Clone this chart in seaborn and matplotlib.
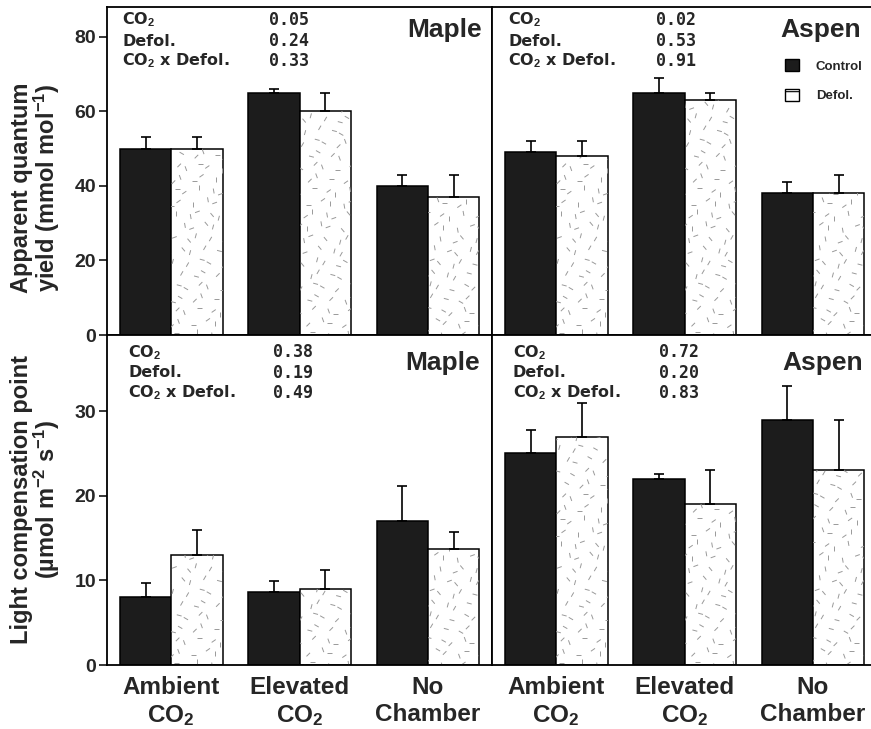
import numpy as np
import pandas as pd
import matplotlib
matplotlib.use("Agg")
import matplotlib.pyplot as plt
import seaborn as sns
from matplotlib.collections import LineCollection
from matplotlib.patches import Patch

# data (means and upper SE)
treatments = ["Ambient\nCO$_2$", "Elevated\nCO$_2$", "No\nChamber"]
groups = ["Control", "Defol."]

maple_qy_ctrl = [50, 65, 40]
maple_qy_ctrl_se = [3, 1, 3]
maple_qy_defol = [50, 60, 37]
maple_qy_defol_se = [3, 5, 6]

aspen_qy_ctrl = [49, 65, 38]
aspen_qy_ctrl_se = [3, 4, 3]
aspen_qy_defol = [48, 63, 38]
aspen_qy_defol_se = [4, 2, 5]

maple_lcp_ctrl = [8, 8.6, 17]
maple_lcp_ctrl_se = [1.7, 1.3, 4.1]
maple_lcp_defol = [13, 9, 13.7]
maple_lcp_defol_se = [2.9, 2.2, 2.0]

aspen_lcp_ctrl = [25, 22, 29]
aspen_lcp_ctrl_se = [2.8, 0.6, 4]
aspen_lcp_defol = [27, 19, 23]
aspen_lcp_defol_se = [4, 4, 6]

stat_labels = ["CO$_2$", "Defol.", "CO$_2$ x Defol."]
maple_qy_p = ["0.05", "0.24", "0.33"]
aspen_qy_p = ["0.02", "0.53", "0.91"]
maple_lcp_p = ["0.38", "0.19", "0.49"]
aspen_lcp_p = ["0.72", "0.20", "0.83"]

sns.set_style("ticks")
plt.rcParams['font.family'] = ['Liberation Sans', 'DejaVu Sans']
plt.rcParams['font.weight'] = 'bold'
plt.rcParams['axes.labelweight'] = 'bold'
plt.rcParams['mathtext.fontset'] = 'custom'
plt.rcParams['mathtext.rm'] = 'Liberation Sans:bold'
plt.rcParams['mathtext.bf'] = 'Liberation Sans:bold'
plt.rcParams['mathtext.default'] = 'rm'
plt.rcParams['hatch.color'] = '#777777'
plt.rcParams['hatch.linewidth'] = 0.8

W, H = 871, 729
fig = plt.figure(figsize=(W / 100, H / 100), dpi=100)


def px_axes(x0, y0, x1, y1):
    return fig.add_axes([x0 / W, (H - y1) / H, (x1 - x0) / W, (y1 - y0) / H])


def make_df(ctrl, ctrl_se, defol, defol_se):
    rows = []
    for t, v, e in zip(treatments, ctrl, ctrl_se):
        rows.append({"treatment": t, "group": "Control", "value": v, "se": e})
    for t, v, e in zip(treatments, defol, defol_se):
        rows.append({"treatment": t, "group": "Defol.", "value": v, "se": e})
    return pd.DataFrame(rows)


def texture(ax, patch):
    # short grey dashes of mixed angle, like the stipple fill
    bb = ax.get_window_extent()
    wpx, hpx = bb.width, bb.height
    angles = [75, 110, 20, 150, 90, 60, 0, 130, 45, 100, 165, 35]
    segs = []
    sx, sy = 11.5, 12.0
    for j in range(int(hpx / sy) + 2):
        for i in range(int(wpx / sx) + 2):
            jx = ((i * 7 + j * 3) % 5 - 2) * 1.6
            jy = ((i * 3 + j * 5) % 5 - 2) * 1.6
            cx = (i + 0.5 * (j % 2)) * sx + jx
            cy = j * sy + jy
            a = np.deg2rad(angles[(i * 5 + j * 7) % len(angles)])
            dx, dy = 2.5 * np.cos(a), 2.5 * np.sin(a)
            segs.append([((cx - dx) / wpx, (cy - dy) / hpx),
                         ((cx + dx) / wpx, (cy + dy) / hpx)])
    lc = LineCollection(segs, colors='#999999', linewidths=0.7,
                        transform=ax.transAxes, zorder=patch.get_zorder() + 0.1)
    ax.add_collection(lc)
    lc.set_clip_path(patch)


def panel(ax, df, ymax, yticks, ps, species, pos, show_y, show_x):
    sns.barplot(data=df, x="treatment", y="value", hue="group",
                hue_order=groups, palette={"Control": "#1c1c1c", "Defol.": "white"},
                edgecolor="black", linewidth=1.1, width=0.8, errorbar=None,
                legend=False, ax=ax)
    ax.set_xlim(-0.5, 2.5)
    ax.set_ylim(0, ymax)
    bars = [p for p in ax.patches]
    for p in bars:
        cx = p.get_x() + p.get_width() / 2
        k = int(round(cx))
        g = "Control" if cx < k else "Defol."
        row = df[(df.treatment == treatments[k]) & (df.group == g)].iloc[0]
        ax.errorbar(cx, row.value, yerr=[[0], [row.se]], fmt='none',
                    ecolor='black', elinewidth=1.2, capsize=3.5, capthick=1.2,
                    zorder=4)
        if g == "Defol.":
            texture(ax, p)
    for s in ax.spines.values():
        s.set_linewidth(1.3)
        s.set_color('black')
    ax.set_xlabel("")
    ax.set_ylabel("")
    ax.tick_params(axis='x', length=0, pad=8, labelsize=17.5)
    if not show_x:
        ax.set_xticklabels([])
    ax.set_yticks(yticks)
    if show_y:
        ax.tick_params(axis='y', length=6, width=1.3, pad=2, labelsize=14,
                       direction='out')
    else:
        ax.tick_params(axis='y', length=0, labelleft=False)
    lx, vx, ys, sx, sy = pos
    for lab, pv, yy in zip(stat_labels, ps, ys):
        ax.text(lx, yy, lab, transform=ax.transAxes, fontsize=11.5,
                family=['DejaVu Sans'], va='center', ha='left')
        ax.text(vx, yy, pv, transform=ax.transAxes, fontsize=12,
                family=['DejaVu Sans Mono'], va='center', ha='left')
    ax.text(sx, sy, species, transform=ax.transAxes, fontsize=19,
            ha='right', va='center')


ax1 = px_axes(107, 7, 492, 335)
ax2 = px_axes(492, 7, 877, 335)
ax3 = px_axes(107, 335, 492, 665)
ax4 = px_axes(492, 335, 877, 665)

panel(ax1, make_df(maple_qy_ctrl, maple_qy_ctrl_se, maple_qy_defol, maple_qy_defol_se),
      88, [0, 20, 40, 60, 80], maple_qy_p, "Maple",
      (0.039, 0.42, [0.96, 0.896, 0.835], 0.974, 0.93), True, False)
panel(ax2, make_df(aspen_qy_ctrl, aspen_qy_ctrl_se, aspen_qy_defol, aspen_qy_defol_se),
      88, [0, 20, 40, 60, 80], aspen_qy_p, "Aspen",
      (0.042, 0.425, [0.96, 0.896, 0.835], 0.958, 0.93), False, False)
panel(ax3, make_df(maple_lcp_ctrl, maple_lcp_ctrl_se, maple_lcp_defol, maple_lcp_defol_se),
      39, [0, 10, 20, 30], maple_lcp_p, "Maple",
      (0.055, 0.432, [0.948, 0.885, 0.824], 0.969, 0.915), True, True)
panel(ax4, make_df(aspen_lcp_ctrl, aspen_lcp_ctrl_se, aspen_lcp_defol, aspen_lcp_defol_se),
      39, [0, 10, 20, 30], aspen_lcp_p, "Aspen",
      (0.054, 0.434, [0.948, 0.885, 0.824], 0.964, 0.915), False, True)

for ax in (ax2, ax4):
    ax.spines['right'].set_visible(False)

ax1.set_ylabel("Apparent quantum\nyield (mmol mol$^{-1}$)", fontsize=17,
               fontweight='bold', linespacing=0.95)
ax1.yaxis.set_label_coords(-0.118, 0.45)
ax3.set_ylabel("Light compensation point\n(µmol m$^{-2}$ s$^{-1}$)", fontsize=17,
               fontweight='bold', linespacing=0.95)
ax3.yaxis.set_label_coords(-0.118, 0.5)

handles = [Patch(facecolor='#1c1c1c', edgecolor='black'),
           Patch(facecolor='white', edgecolor='black', hatch='-')]
ax2.legend(handles, groups, loc='upper left', bbox_to_anchor=(0.762, 0.84),
           frameon=False, fontsize=9.5, handlelength=1.0, handleheight=1.0,
           handletextpad=1.3, labelspacing=1.2, borderpad=0, borderaxespad=0)

plt.savefig("out.png", dpi=100)
